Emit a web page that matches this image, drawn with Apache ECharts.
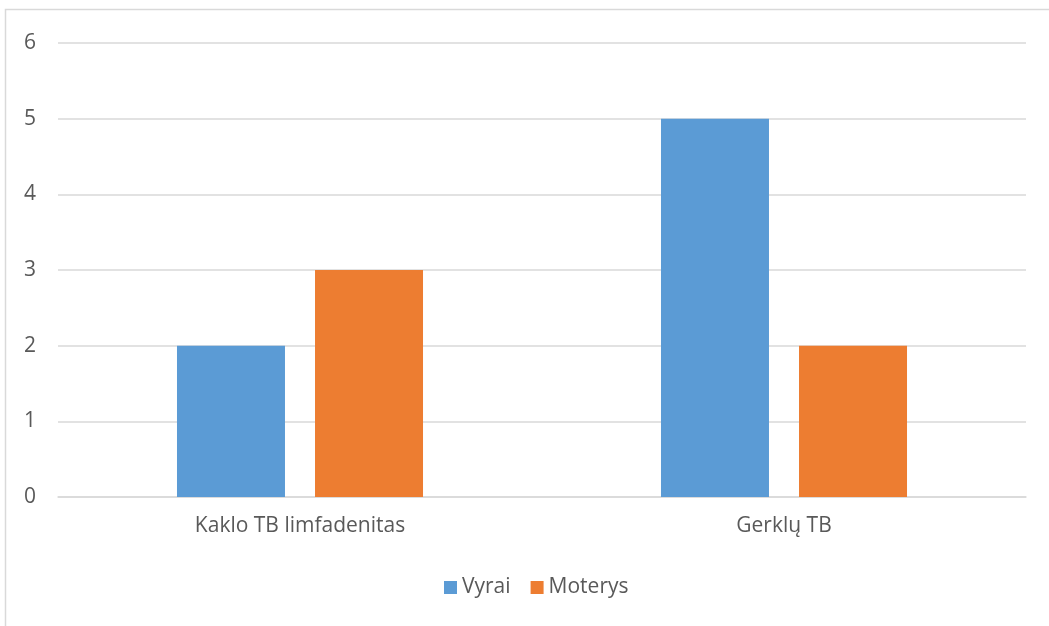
<!DOCTYPE html>
<html>
<head>
<meta charset="utf-8">
<script src="https://cdn.jsdelivr.net/npm/echarts@6/dist/echarts.min.js"></script>
<style>
  html, body { margin: 0; padding: 0; background: #fff; }
  #chart { width: 1049px; height: 626px; }
</style>
</head>
<body>
<div id="chart"></div>
<script>
const categories = ['Kaklo TB limfadenitas', 'Gerklų TB'];
const seriesNames = ['Vyrai', 'Moterys'];
const vyrai = [2, 5];
const moterys = [3, 2];
const yTicks = { min: 0, max: 6, interval: 1 };

const font = '"Open Sans", "Noto Sans", sans-serif';
const textColor = '#595959';

const chart = echarts.init(document.getElementById('chart'), null, { renderer: 'canvas' });
chart.setOption({
  animation: false,
  backgroundColor: '#fff',
  graphic: [{
    type: 'rect',
    shape: { x: 5.5, y: 9.5, width: 1100, height: 700 },
    style: { fill: 'none', stroke: '#D9D9D9', lineWidth: 1.5 },
    silent: true
  }],
  grid: { left: 58, right: 23, top: 43, bottom: 129, containLabel: false },
  legend: {
    data: seriesNames,
    bottom: 23,
    left: 439,
    itemWidth: 13,
    itemHeight: 13,
    itemGap: 20,
    icon: 'rect',
    textStyle: { color: textColor, fontFamily: font, fontSize: 21 }
  },
  xAxis: {
    type: 'category',
    data: categories,
    axisLine: { show: true, lineStyle: { color: '#D9D9D9', width: 1.5 } },
    axisTick: { show: false },
    axisLabel: { color: textColor, fontFamily: font, fontSize: 21, margin: 19 }
  },
  yAxis: {
    type: 'value',
    min: yTicks.min,
    max: yTicks.max,
    interval: yTicks.interval,
    axisLine: { show: false },
    axisTick: { show: false },
    splitLine: { lineStyle: { color: '#D9D9D9', width: 1.5 } },
    axisLabel: { color: textColor, fontFamily: font, fontSize: 21, margin: 22 }
  },
  series: [
    {
      name: seriesNames[0],
      type: 'bar',
      data: vyrai,
      barWidth: 108,
      barGap: '27.8%',
      itemStyle: { color: '#5B9BD5' }
    },
    {
      name: seriesNames[1],
      type: 'bar',
      data: moterys,
      barWidth: 108,
      itemStyle: { color: '#ED7D31' }
    }
  ]
});
</script>
</body>
</html>
